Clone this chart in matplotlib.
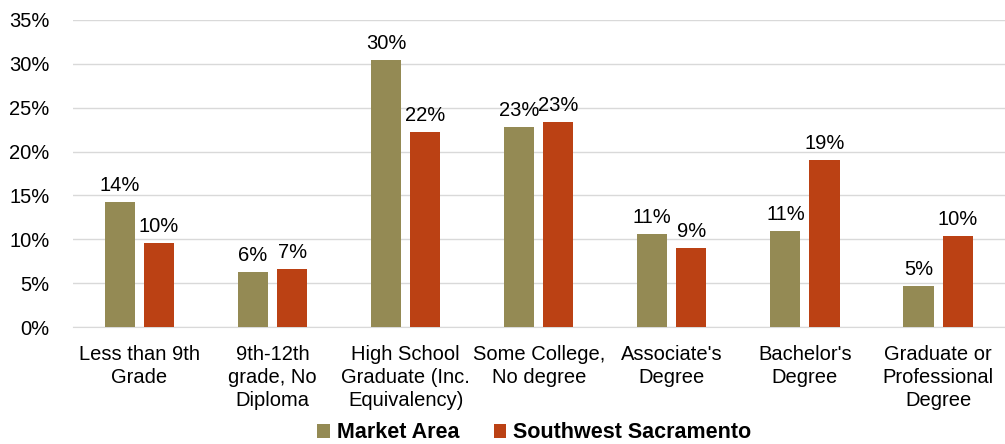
import matplotlib.pyplot as plt
import numpy as np

# Dados
categorias = ["Less than 9th\nGrade", "9th-12th\ngrade, No\nDiploma",
              "High School\nGraduate (Inc.\nEquivalency)", "Some College,\nNo degree",
              "Associate's\nDegree", "Bachelor's\nDegree",
              "Graduate or\nProfessional\nDegree"]
market_area = [14.3, 6.3, 30.4, 22.8, 10.6, 10.9, 4.7]
southwest_sac = [9.6, 6.6, 22.2, 23.4, 9.0, 19.0, 10.4]
yticks = [0, 5, 10, 15, 20, 25, 30, 35]

plt.rcParams['font.family'] = ['Liberation Sans', 'DejaVu Sans']
fs = 14.5

fig = plt.figure(figsize=(10.05, 4.44), dpi=100)
ax = fig.add_axes([0.0726, 0.2635, 0.927, 0.6915])

x = np.arange(len(categorias))
w = 0.226
off = 0.147
b1 = ax.bar(x - off, market_area, w, color="#948A54", label="Market Area", zorder=3)
b2 = ax.bar(x + off, southwest_sac, w, color="#BB4114", label="Southwest Sacramento", zorder=3)

for bars, vals in [(b1, market_area), (b2, southwest_sac)]:
    for b, v in zip(bars, vals):
        ax.annotate(f"{v:.0f}%", (b.get_x() + b.get_width() / 2, v),
                    xytext=(0, 5), textcoords="offset points",
                    ha="center", va="bottom", fontsize=fs)

ax.set_ylim(0, 35)
ax.set_xlim(-0.5, len(categorias) - 0.5)
ax.set_yticks(yticks)
ax.set_yticklabels([f"{t}%" for t in yticks], fontsize=fs)
ax.set_xticks(x)
ax.set_xticklabels(categorias, fontsize=fs, linespacing=1.25)
ax.tick_params(length=0)
ax.tick_params(axis='x', pad=13)
ax.tick_params(axis='y', pad=17)
ax.grid(axis='y', color="#D9D9D9", linewidth=1, zorder=0)
for s in ["top", "right", "left"]:
    ax.spines[s].set_visible(False)
ax.spines["bottom"].set_color("#D9D9D9")

ax.legend(loc="center", bbox_to_anchor=(0.495, -0.345), ncol=2, frameon=False,
          prop={'weight': 'bold', 'size': 15.5}, handlelength=0.6, handleheight=0.6,
          handletextpad=0.3, columnspacing=1.6, borderaxespad=0, borderpad=0)

plt.savefig("out.png", dpi=100)
